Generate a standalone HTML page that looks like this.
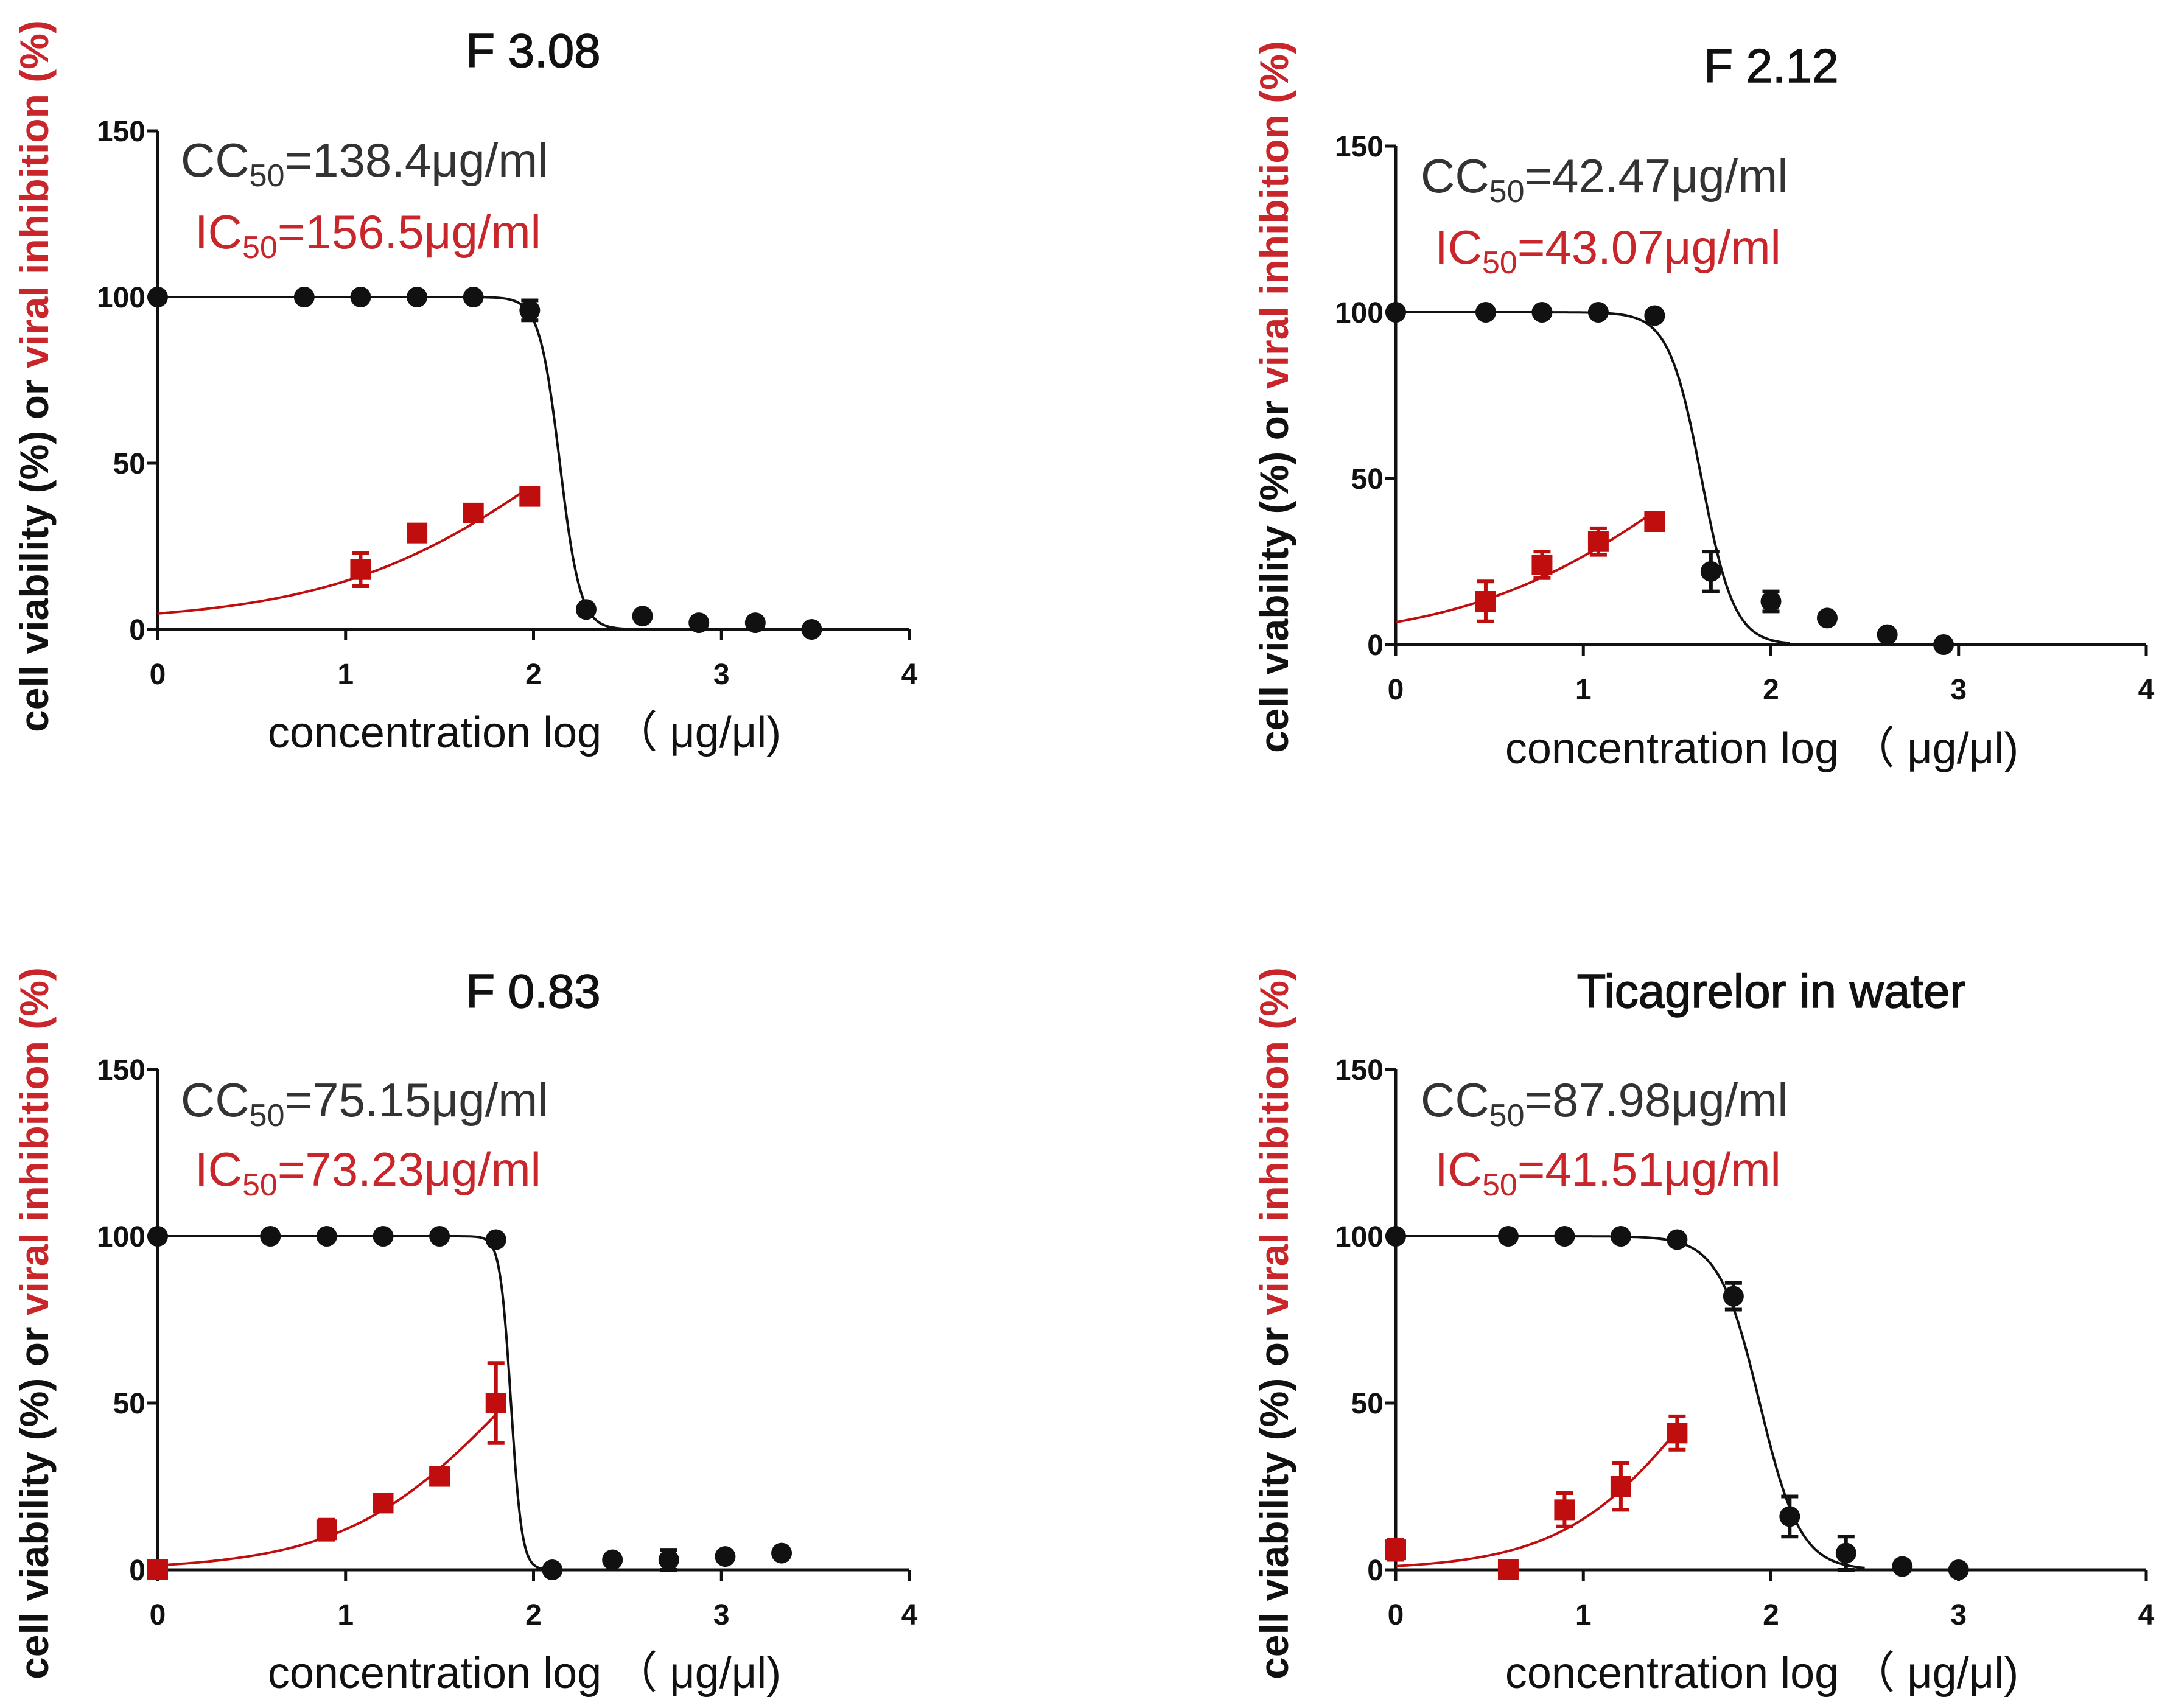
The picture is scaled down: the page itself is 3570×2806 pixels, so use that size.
<!DOCTYPE html>
<html><head><meta charset="utf-8"><style>
html,body{margin:0;padding:0;background:#fff;}
svg{display:block;}
text{font-family:"Liberation Sans",sans-serif;}
</style></head><body>
<svg id="fig" width="3570" height="2806" viewBox="0 0 3570 2806" xmlns="http://www.w3.org/2000/svg"></svg>
<script>
// ---- data: panel titles and labels ----
const titles = ["F 3.08", "F 2.12", "F 0.83", "Ticagrelor in water"];
const cc50Labels = ["138.4", "42.47", "75.15", "87.98"];
const ic50Labels = ["156.5", "43.07", "73.23", "41.51"];
const xTicks = [0, 1, 2, 3, 4];
const yTicks = [0, 50, 100, 150];

// ---- panel 1: F 3.08 ----
const p1BlackX = [0, 0.78, 1.08, 1.38, 1.68, 1.98, 2.28, 2.58, 2.88, 3.18, 3.48];
const p1BlackY = [100, 100, 100, 100, 100, 96, 6, 4, 2, 2, 0];
const p1BlackErr = [0, 0, 0, 0, 0, 3, 0, 0, 0, 0, 0];
const p1RedX = [1.08, 1.38, 1.68, 1.98];
const p1RedY = [18, 29, 35, 40];
const p1RedErr = [5, 2, 2, 2];
const p1BlackFit = [0, 100, 2.14, 8];   // bottom, top, logEC50, hill
const p1RedFit = [2, 100, 2.19, 0.7];

// ---- panel 2: F 2.12 ----
const p2BlackX = [0, 0.48, 0.78, 1.08, 1.38, 1.68, 2.0, 2.3, 2.62, 2.92];
const p2BlackY = [100, 100, 100, 100, 99, 22, 13, 8, 3, 0];
const p2BlackErr = [0, 0, 0, 0, 0, 6, 3, 0, 0, 0];
const p2RedX = [0.48, 0.78, 1.08, 1.38];
const p2RedY = [13, 24, 31, 37];
const p2RedErr = [6, 4, 4, 2];
const p2BlackFit = [0, 100, 1.63, 5];
const p2RedFit = [0, 100, 1.63, 0.7];

// ---- panel 3: F 0.83 ----
const p3BlackX = [0, 0.6, 0.9, 1.2, 1.5, 1.8, 2.1, 2.42, 2.72, 3.02, 3.32];
const p3BlackY = [100, 100, 100, 100, 100, 99, 0, 3, 3, 4, 5];
const p3BlackErr = [0, 0, 0, 0, 0, 0, 0, 0, 3, 0, 0];
const p3RedX = [0, 0.9, 1.2, 1.5, 1.8];
const p3RedY = [0, 12, 20, 28, 50];
const p3RedErr = [0, 3, 2, 2, 12];
const p3BlackFit = [0, 100, 1.88, 15];
const p3RedFit = [0, 100, 1.86, 1.0];

// ---- panel 4: Ticagrelor in water ----
const p4BlackX = [0, 0.6, 0.9, 1.2, 1.5, 1.8, 2.1, 2.4, 2.7, 3.0];
const p4BlackY = [100, 100, 100, 100, 99, 82, 16, 5, 1, 0];
const p4BlackErr = [0, 0, 0, 0, 0, 4, 6, 5, 0, 0];
const p4RedX = [0, 0.6, 0.9, 1.2, 1.5];
const p4RedY = [6, 0, 18, 25, 41];
const p4RedErr = [3, 0, 5, 7, 5];
const p4BlackFit = [0, 100, 1.94, 4];
const p4RedFit = [0, 100, 1.62, 1.2];

const panels = [
 {bx:p1BlackX,by:p1BlackY,be:p1BlackErr,rx:p1RedX,ry:p1RedY,re:p1RedErr,bf:p1BlackFit,rf:p1RedFit,
  x0:259,x4:1494,y0:1034,y150:215,tx:876,ty:110,ccx:297,ccy:290,icx:320,icy:408,ylx:57,yly:618,xly:1228,bEnd:2.6},
 {bx:p2BlackX,by:p2BlackY,be:p2BlackErr,rx:p2RedX,ry:p2RedY,re:p2RedErr,bf:p2BlackFit,rf:p2RedFit,
  x0:2293,x4:3526,y0:1059,y150:240,tx:2910,ty:135,ccx:2334,ccy:316,icx:2357,icy:433,ylx:2094,yly:652,xly:1254,bEnd:2.1},
 {bx:p3BlackX,by:p3BlackY,be:p3BlackErr,rx:p3RedX,ry:p3RedY,re:p3RedErr,bf:p3BlackFit,rf:p3RedFit,
  x0:259,x4:1494,y0:2579,y150:1757,tx:876,ty:1655,ccx:297,ccy:1834,icx:320,icy:1948,ylx:57,yly:2174,xly:2773,bEnd:2.05},
 {bx:p4BlackX,by:p4BlackY,be:p4BlackErr,rx:p4RedX,ry:p4RedY,re:p4RedErr,bf:p4BlackFit,rf:p4RedFit,
  x0:2293,x4:3526,y0:2579,y150:1757,tx:2910,ty:1655,ccx:2334,ccy:1834,icx:2357,icy:1948,ylx:2094,yly:2174,xly:2773,bEnd:2.5}
];

const NS = "http://www.w3.org/2000/svg";
const svg = document.getElementById('fig');
function mk(tag, attrs, parent){
  const e = document.createElementNS(NS, tag);
  for (const k in attrs) e.setAttribute(k, attrs[k]);
  (parent||svg).appendChild(e); return e;
}
const RED = "#c00d0d", RTXT = "#c8262a";

panels.forEach((p, i) => {
  const g = mk('g', {});
  
  
  const sx = v => p.x0 + (p.x4 - p.x0) * v / 4;
  const sy = v => p.y0 - (p.y0 - p.y150) * v / 150;

  const t = mk('text', {x:p.tx, y:p.ty, 'text-anchor':'middle', 'font-size':78, fill:'#111', stroke:'#111','stroke-width':1.5}, g);
  t.textContent = titles[i];
  
  

  const ax = mk('path', {d:`M${sx(0)},${sy(150)} L${sx(0)},${sy(0)} L${sx(4)},${sy(0)}`, stroke:'#111', 'stroke-width':5, fill:'none'}, g);
  
  
  xTicks.forEach(v => {
    mk('line', {x1:sx(v), x2:sx(v), y1:sy(0), y2:sy(0)+18, stroke:'#111','stroke-width':5}, g);
    const tl = mk('text', {x:sx(v), y:sy(0)+90, 'text-anchor':'middle','font-size':48,'font-weight':'bold', fill:'#111'}, g);
    tl.textContent = v;
    
    
  });
  yTicks.forEach(v => {
    mk('line', {x1:sx(0)-18, x2:sx(0), y1:sy(v), y2:sy(v), stroke:'#111','stroke-width':5}, g);
    const tl = mk('text', {x:sx(0)-20, y:sy(v)+17, 'text-anchor':'end','font-size':48,'font-weight':'bold', fill:'#111'}, g);
    tl.textContent = v;
    
    
  });

  const xl = mk('text', {x:(sx(0)+sx(4))/2 - 15, y:p.xly, 'text-anchor':'middle','font-size':72, fill:'#111'}, g);
  xl.textContent = "concentration log （ μg/μl)";
  
  
  const yl = mk('text', {x:0, y:0, transform:`translate(${p.ylx+22},${p.yly}) rotate(-90)`, 'text-anchor':'middle','font-size':66,'font-weight':'bold', fill:'#111'}, g);
  yl.innerHTML = 'cell viability (%) or <tspan fill="'+RTXT+'">viral inhibition (%)</tspan>';
  
  

  const cc = mk('text', {x:p.ccx, y:p.ccy, 'font-size':78, fill:'#333'}, g);
  cc.innerHTML = 'CC<tspan font-size="52" dy="16">50</tspan><tspan dy="-16">=' + cc50Labels[i] + 'μg/ml</tspan>';
  
  
  const ic = mk('text', {x:p.icx, y:p.icy, 'font-size':78, fill:RTXT}, g);
  ic.innerHTML = 'IC<tspan font-size="52" dy="16">50</tspan><tspan dy="-16">=' + ic50Labels[i] + 'μg/ml</tspan>';
  
  

  const dec = (f, x) => f[0] + (f[1]-f[0]) / (1 + Math.pow(10, (x - f[2]) * f[3]));
  const inc = (f, x) => f[0] + (f[1]-f[0]) / (1 + Math.pow(10, (f[2] - x) * f[3]));
  let d = '';
  for (let k = 0; k <= 400; k++) { const x = p.bEnd * k / 400; d += (k? 'L':'M') + sx(x).toFixed(1) + ',' + sy(dec(p.bf, x)).toFixed(1); }
  const bc = mk('path', {d, stroke:'#111','stroke-width':4, fill:'none'}, g);
  
  
  const rEnd = p.rx[p.rx.length-1];
  d = '';
  for (let k = 0; k <= 300; k++) { const x = rEnd * k / 300; d += (k? 'L':'M') + sx(x).toFixed(1) + ',' + sy(inc(p.rf, x)).toFixed(1); }
  const rc = mk('path', {d, stroke:RED,'stroke-width':4, fill:'none'}, g);
  
  

  function err(x, y, e, col){
    if (!e) return;
    const X = sx(x), a = sy(y+e), b = sy(y-e);
    mk('path', {d:`M${X},${a}L${X},${b}M${X-14},${a}L${X+14},${a}M${X-14},${b}L${X+14},${b}`, stroke:col,'stroke-width':6, fill:'none'}, g);
  }
  p.bx.forEach((x, k) => {
    err(x, p.by[k], p.be[k], '#111');
    const c = mk('circle', {cx:sx(x), cy:sy(p.by[k]), r:17, fill:'#111'}, g);
    
    
  });
  p.rx.forEach((x, k) => {
    err(x, p.ry[k], p.re[k], RED);
    const r = mk('rect', {x:sx(x)-17, y:sy(p.ry[k])-17, width:34, height:34, fill:RED}, g);
    
    
  });
});
</script>
</body></html>
